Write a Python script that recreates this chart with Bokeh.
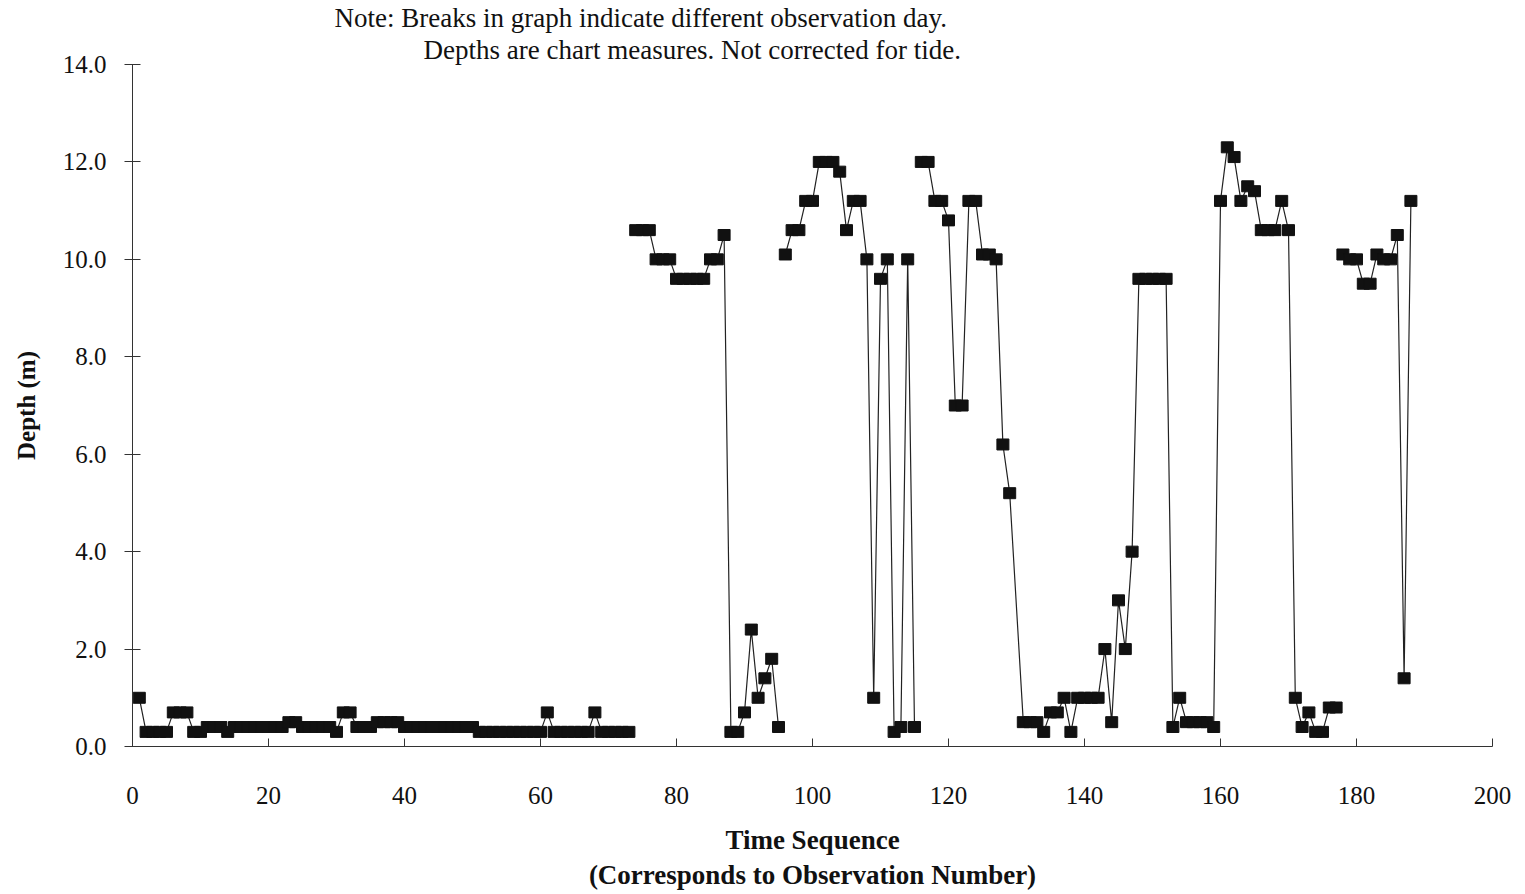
from bokeh.plotting import figure
from bokeh.models import Range1d, FixedTicker, LinearAxis, Title, CustomJSTickFormatter
from bokeh.embed import file_html
from bokeh.resources import INLINE

# ---------------- data (observation number, depth in m) ----------------
day1_obs = list(range(1, 74))
day1_depth = [1.0, 0.3, 0.3, 0.3, 0.3, 0.7, 0.7, 0.7, 0.3, 0.3,
              0.4, 0.4, 0.4, 0.3, 0.4, 0.4, 0.4, 0.4, 0.4, 0.4,
              0.4, 0.4, 0.5, 0.5, 0.4, 0.4, 0.4, 0.4, 0.4, 0.3,
              0.7, 0.7, 0.4, 0.4, 0.4, 0.5, 0.5, 0.5, 0.5, 0.4,
              0.4, 0.4, 0.4, 0.4, 0.4, 0.4, 0.4, 0.4, 0.4, 0.4,
              0.3, 0.3, 0.3, 0.3, 0.3, 0.3, 0.3, 0.3, 0.3, 0.3,
              0.7, 0.3, 0.3, 0.3, 0.3, 0.3, 0.3, 0.7, 0.3, 0.3,
              0.3, 0.3, 0.3]

day2_obs = list(range(74, 96))
day2_depth = [10.6, 10.6, 10.6, 10.0, 10.0, 10.0, 9.6, 9.6, 9.6, 9.6,
              9.6, 10.0, 10.0, 10.5, 0.3, 0.3, 0.7, 2.4, 1.0, 1.4,
              1.8, 0.4]

day3_obs = list(range(96, 116))
day3_depth = [10.1, 10.6, 10.6, 11.2, 11.2, 12.0, 12.0, 12.0, 11.8, 10.6,
              11.2, 11.2, 10.0, 1.0, 9.6, 10.0, 0.3, 0.4, 10.0, 0.4]

day4_obs = list(range(116, 130)) + list(range(131, 178))
day4_depth = [12.0, 12.0, 11.2, 11.2, 10.8, 7.0, 7.0, 11.2, 11.2, 10.1,
              10.1, 10.0, 6.2, 5.2,
              0.5, 0.5, 0.5, 0.3, 0.7, 0.7, 1.0, 0.3, 1.0, 1.0,
              1.0, 1.0, 2.0, 0.5, 3.0, 2.0, 4.0, 9.6, 9.6, 9.6,
              9.6, 9.6, 0.4, 1.0, 0.5, 0.5, 0.5, 0.5, 0.4, 11.2,
              12.3, 12.1, 11.2, 11.5, 11.4, 10.6, 10.6, 10.6, 11.2, 10.6,
              1.0, 0.4, 0.7, 0.3, 0.3, 0.8, 0.8]

day5_obs = list(range(178, 189))
day5_depth = [10.1, 10.0, 10.0, 9.5, 9.5, 10.1, 10.0, 10.0, 10.5, 1.4, 11.2]

x_ticks = [0, 20, 40, 60, 80, 100, 120, 140, 160, 180, 200]
y_ticks = [0, 2, 4, 6, 8, 10, 12, 14]

note_line1 = "Note:  Breaks in graph indicate different observation day."
note_line2 = "Depths are chart measures.  Not corrected for tide."
x_title = "Time Sequence"
x_subtitle = "(Corresponds to Observation Number)"
y_title = "Depth (m)"

days = [(day1_obs, day1_depth), (day2_obs, day2_depth), (day3_obs, day3_depth),
        (day4_obs, day4_depth), (day5_obs, day5_depth)]

# line with breaks between observation days
line_x, line_y, pts_x, pts_y = [], [], [], []
for obs, dep in days:
    line_x += obs + [float("nan")]
    line_y += dep + [float("nan")]
    pts_x += obs
    pts_y += dep

# ---------------- figure ----------------
W, H = 1525, 894
L, R, T, B = 132, 33, 63, 148
p = figure(width=W, height=H, output_backend="svg", toolbar_location=None,
           x_range=Range1d(0, 200), y_range=Range1d(0, 14),
           min_border_left=L, min_border_right=R, min_border_top=T, min_border_bottom=B)
p.outline_line_color = None
p.grid.visible = False

p.line(line_x, line_y, line_color="#222222", line_width=1.2)
p.rect(pts_x, pts_y, width=12, height=11, width_units="screen", height_units="screen",
       fill_color="#111111", line_color="#111111")

FONT = "Liberation Serif"
FS = "25px"
FS_BIG = "27px"
INK = "#111111"

xa = p.xaxis[0]
xa.ticker = FixedTicker(ticks=x_ticks)
xa.minor_tick_line_color = None
xa.major_tick_in = 8
xa.major_tick_out = 0
xa.major_label_standoff = 40
xa.major_label_text_font = FONT
xa.major_label_text_font_size = FS
xa.major_label_text_color = INK
xa.axis_line_color = "#333333"
xa.major_tick_line_color = "#333333"
xa.axis_label = x_title
xa.axis_label_text_font = FONT
xa.axis_label_text_font_style = "bold"
xa.axis_label_text_font_size = FS_BIG
xa.axis_label_text_color = INK
xa.axis_label_standoff = 18

# second (label-only) axis below for the sub-title of the x axis
xa2 = LinearAxis(ticker=FixedTicker(ticks=[]), axis_line_color=None,
                 major_tick_line_color=None, minor_tick_line_color=None,
                 axis_label=x_subtitle, axis_label_text_font=FONT,
                 axis_label_text_font_style="bold", axis_label_text_font_size=FS_BIG,
                 axis_label_text_color=INK, axis_label_standoff=2)
p.add_layout(xa2, "below")

ya = p.yaxis[0]
ya.ticker = FixedTicker(ticks=y_ticks)
ya.formatter = CustomJSTickFormatter(code="return tick.toFixed(1);")
ya.minor_tick_line_color = None
ya.major_tick_in = 8
ya.major_tick_out = 8
ya.major_label_standoff = 18
ya.major_label_text_font = FONT
ya.major_label_text_font_size = FS
ya.major_label_text_color = INK
ya.axis_line_color = "#333333"
ya.major_tick_line_color = "#333333"
ya.axis_label = y_title
ya.axis_label_text_font = FONT
ya.axis_label_text_font_style = "bold"
ya.axis_label_text_font_size = FS
ya.axis_label_text_color = INK
ya.axis_label_standoff = 20

# two-line note above the plot (later-added title is placed further out)
p.add_layout(Title(text=note_line2, align="left", offset=291, standoff=0,
                   text_font=FONT, text_font_size=FS_BIG, text_font_style="normal",
                   text_line_height=0.95, text_color=INK), "above")
p.add_layout(Title(text=note_line1, align="left", offset=202, standoff=0,
                   text_font=FONT, text_font_size=FS_BIG, text_font_style="normal",
                   text_line_height=0.95, text_color=INK), "above")

open("out.html", "w").write(file_html(p, INLINE))
